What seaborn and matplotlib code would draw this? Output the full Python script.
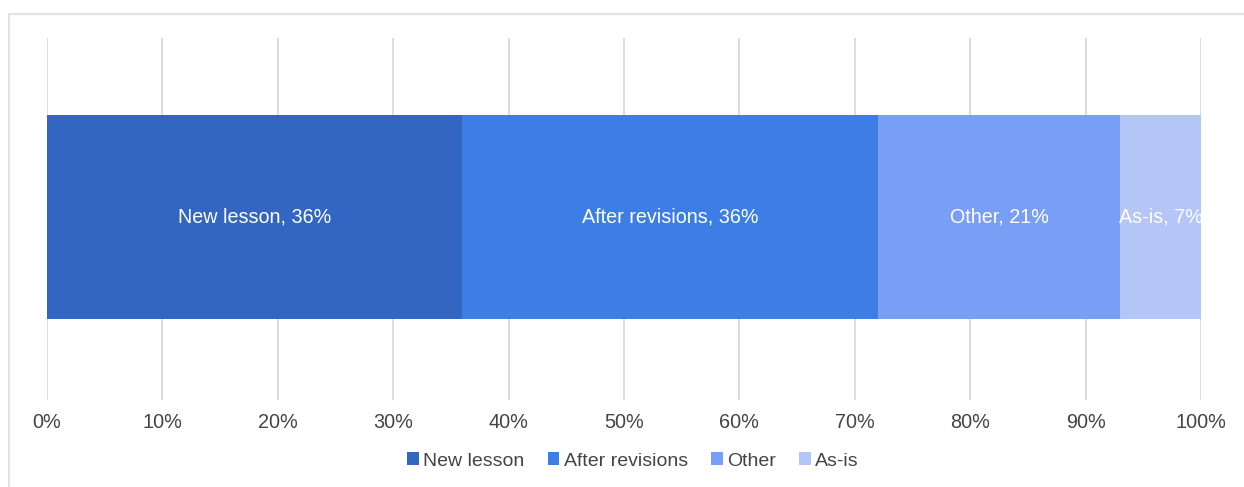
import matplotlib
matplotlib.use("Agg")
import matplotlib.pyplot as plt
from matplotlib.patches import Rectangle
from matplotlib.ticker import FuncFormatter
import numpy as np
import pandas as pd
import seaborn as sns

# Share of lessons by how they were produced
categories = ["New lesson", "After revisions", "Other", "As-is"]
shares = [36, 36, 21, 7]
colors = ["#3366C2", "#3D7EE6", "#789FF5", "#B4C6F8"]
tick_values = [0, 10, 20, 30, 40, 50, 60, 70, 80, 90, 100]

sns.set_theme(style="white")
plt.rcParams["font.family"] = ["Liberation Sans", "DejaVu Sans"]

fig = plt.figure(figsize=(12.44, 4.87), dpi=100)
ax = fig.add_axes([47 / 1244, 1 - 400 / 487, 1154 / 1244, 362 / 487])

df = pd.DataFrame({"category": categories, "share": shares})
df["end"] = df["share"].cumsum()
df["start"] = df["end"] - df["share"]
df["row"] = "All"

# Stacked bar: draw cumulative totals from the widest down so each segment shows
for i in range(len(df) - 1, -1, -1):
    sns.barplot(data=df.iloc[[i]], x="end", y="row", orient="h",
                color=colors[i], width=0.5635, linewidth=0, saturation=1,
                ax=ax, zorder=2)

for _, r in df.iterrows():
    ax.text((r["start"] + r["end"]) / 2, 0, f'{r["category"]}, {r["share"]}%',
            ha="center", va="center", color="white", fontsize=14.2, zorder=3)

ax.set_xlim(0, 100)
ax.set_ylim(0.5055, -0.4945)
ax.set_xticks(tick_values)
ax.xaxis.set_major_formatter(FuncFormatter(lambda v, _: f"{v:.0f}%"))
ax.set_yticks([])
ax.set_xlabel("")
ax.set_ylabel("")
ax.grid(axis="x", color="#DCDCDC", linewidth=1.4, zorder=0)
ax.set_axisbelow(True)
for s in ax.spines.values():
    s.set_visible(False)
ax.tick_params(axis="x", length=0, pad=9.5, labelsize=14.3, labelcolor="#444444")

handles = [Rectangle((0, 0), 1, 1, facecolor=c, edgecolor="none") for c in colors]
fig.legend(handles, categories, loc="center", bbox_to_anchor=(633 / 1244, 1 - 461 / 487),
           ncol=4, frameon=False, fontsize=14, labelcolor="#444444",
           handlelength=0.6, handleheight=0.6, handletextpad=0.22,
           columnspacing=1.2)

# Light frame along the top and left of the panel
fig.add_artist(Rectangle((9 / 1244, -0.2), 1.2, 1 - 14 / 487 + 0.2,
                         transform=fig.transFigure, facecolor="none",
                         edgecolor="#E3E3E3", linewidth=1.6, clip_on=False))

fig.savefig("out.png", dpi=100, facecolor="white")
